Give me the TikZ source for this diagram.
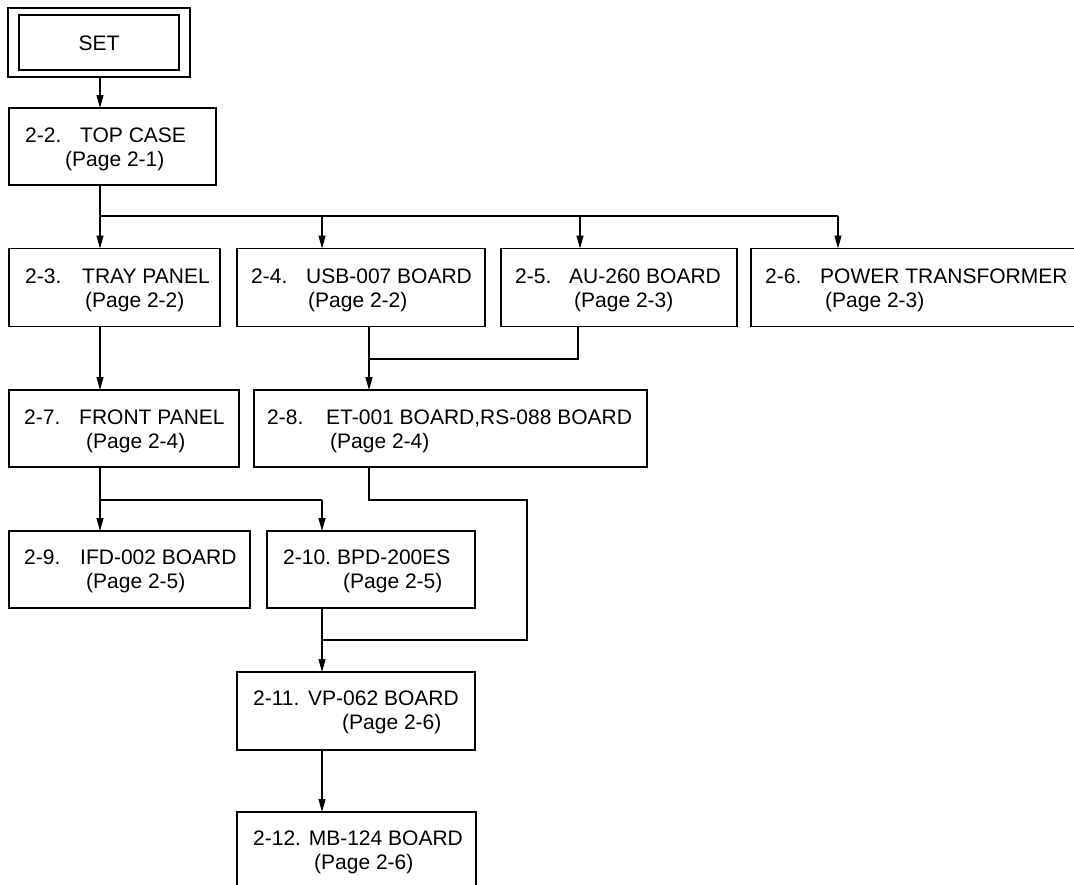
\documentclass[tikz,border=0pt]{standalone}
\usepackage{fontspec}
\setmainfont{Liberation Sans}
\usetikzlibrary{arrows.meta}
\begin{document}
\begin{tikzpicture}[x=1pt,y=-1pt,
  box/.style={draw, line width=1.4pt, inner sep=0pt, outer sep=0pt, rectangle},
  txt/.style={anchor=base west, inner sep=0pt, font=\fontsize{21}{25}\selectfont},
  conn/.style={line width=1.2pt},
  arr/.style={conn, -{Triangle[length=13pt,width=7pt]}}]
\useasboundingbox (0,0) rectangle (1074,884);
\fill[white] (0,0) rectangle (1074,884);
\clip (0,0) rectangle (1074,884);
% boxes
\node[box, minimum width=182pt, minimum height=69pt] (setout) at (99,42.5) {};
\node[box, minimum width=160pt, minimum height=55pt] (setin) at (99,42.5) {};
\node[box, minimum width=207pt, minimum height=77pt] (tc) at (112.5,146.5) {};
\node[box, minimum width=211pt, minimum height=78pt] (tray) at (114.5,287.5) {};
\node[box, minimum width=248pt, minimum height=78pt] (usb) at (361,287.5) {};
\node[box, minimum width=236pt, minimum height=78pt] (au) at (619,287.5) {};
\node[box, minimum width=360pt, minimum height=78pt] (pow) at (931,287.5) {};
\node[box, minimum width=230pt, minimum height=77pt] (front) at (124,428.5) {};
\node[box, minimum width=393pt, minimum height=77pt] (et) at (450.5,428.5) {};
\node[box, minimum width=241pt, minimum height=77pt] (ifd) at (129.5,569.5) {};
\node[box, minimum width=208pt, minimum height=77pt] (bpd) at (371,569.5) {};
\node[box, minimum width=238pt, minimum height=78pt] (vp) at (356,711) {};
\node[box, minimum width=239pt, minimum height=110pt] (mb) at (356.5,867) {};
% texts
\node[txt, anchor=base] (tset) at (99,50) {SET};
\node[txt] (n22) at (25,142) {2-2.};
\node[txt] (t22) at (80,142) {TOP CASE};
\node[txt] (p22) at (65,166) {(Page 2-1)};
\node[txt] (n23) at (25,283) {2-3.};
\node[txt] (t23) at (82,283) {TRAY PANEL};
\node[txt] (p23) at (85,307) {(Page 2-2)};
\node[txt] (n24) at (251,283) {2-4.};
\node[txt] (t24) at (306,283) {USB-007 BOARD};
\node[txt] (p24) at (308,307) {(Page 2-2)};
\node[txt] (n25) at (515,283) {2-5.};
\node[txt] (t25) at (569,283) {AU-260 BOARD};
\node[txt] (p25) at (574,307) {(Page 2-3)};
\node[txt] (n26) at (765,283) {2-6.};
\node[txt] (t26) at (820,283) {POWER TRANSFORMER};
\node[txt] (p26) at (825,307) {(Page 2-3)};
\node[txt] (n27) at (24,424) {2-7.};
\node[txt] (t27) at (79,424) {FRONT PANEL};
\node[txt] (p27) at (86,448) {(Page 2-4)};
\node[txt] (n28) at (267,424) {2-8.};
\node[txt] (t28) at (326,424) {ET-001 BOARD,RS-088 BOARD};
\node[txt] (p28) at (330,448) {(Page 2-4)};
\node[txt] (n29) at (24,564) {2-9.};
\node[txt] (t29) at (80,564) {IFD-002 BOARD};
\node[txt] (p29) at (86,588) {(Page 2-5)};
\node[txt] (n210) at (283,564) {2-10.};
\node[txt] (t210) at (337,564) {BPD-200ES};
\node[txt] (p210) at (343,588) {(Page 2-5)};
\node[txt] (n211) at (253,705) {2-11.};
\node[txt] (t211) at (308,705) {VP-062 BOARD};
\node[txt] (p211) at (342,729) {(Page 2-6)};
\node[txt] (n212) at (253,845) {2-12. MB-124 BOARD};
\node[txt] (p212) at (314,869) {(Page 2-6)};
% junction coordinates
\coordinate (j1) at (100,216);
\coordinate (j1b) at (322,216);
\coordinate (j1c) at (580,216);
\coordinate (j1d) at (838,216);
\coordinate (j2a) at (369,359);
\coordinate (j2b) at (578,359);
\coordinate (j3a) at (100,500);
\coordinate (j3b) at (322,500);
\coordinate (j4a) at (369,500);
\coordinate (j4b) at (527,500);
\coordinate (j4c) at (527,640);
\coordinate (j4d) at (322,640);
% connectors
\draw[arr] (setout.south -| j1) -- (tc.north -| j1);
\draw[conn] (tc.south -| j1) -- (j1) -- (j1d);
\draw[arr] (j1) -- (tray.north -| j1);
\draw[arr] (j1b) -- (usb.north -| j1b);
\draw[arr] (j1c) -- (au.north -| j1c);
\draw[arr] (j1d) -- (pow.north -| j1d);
\draw[conn] (au.south -| j2b) -- (j2b) -- (j2a);
\draw[conn] (usb.south -| j2a) -- (j2a);
\draw[arr] (j2a) -- (et.north -| j2a);
\draw[arr] (tray.south -| j3a) -- (front.north -| j3a);
\draw[conn] (front.south -| j3a) -- (j3a) -- (j3b);
\draw[arr] (j3a) -- (ifd.north -| j3a);
\draw[arr] (j3b) -- (bpd.north -| j3b);
\draw[conn] (et.south -| j4a) -- (j4a) -- (j4b) -- (j4c) -- (j4d);
\draw[conn] (bpd.south -| j4d) -- (j4d);
\draw[arr] (j4d) -- (vp.north -| j4d);
\draw[arr] (vp.south -| j4d) -- (mb.north -| j4d);
\end{tikzpicture}
\end{document}
